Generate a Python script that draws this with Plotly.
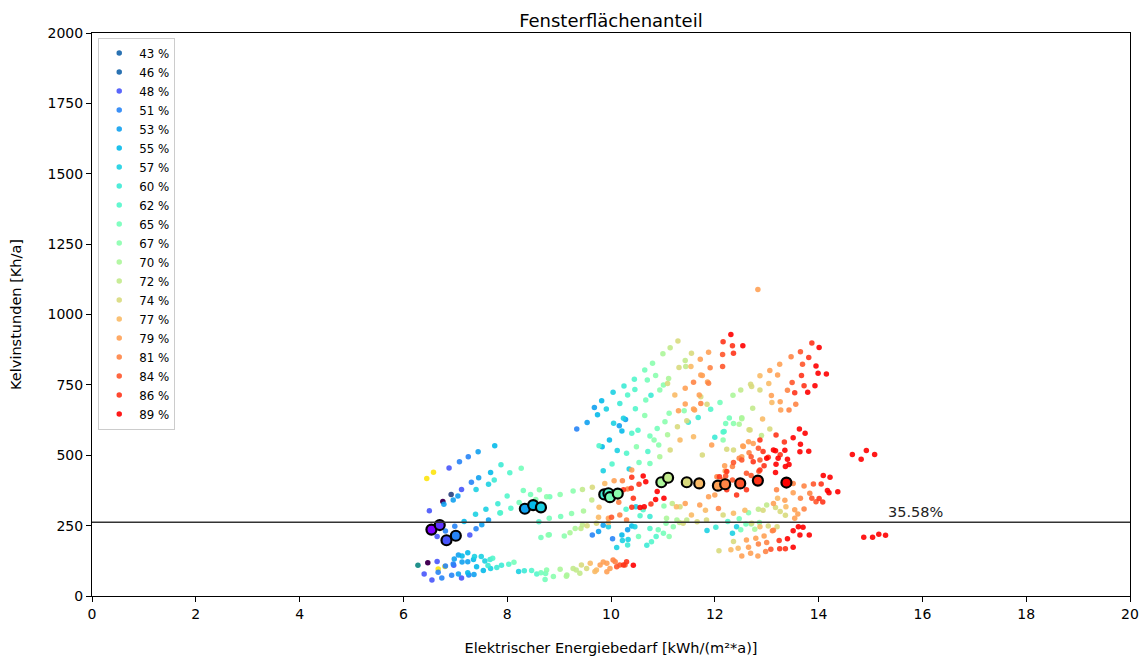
import math

import plotly.graph_objects as go

# window fraction per series (legend labels)
pct = [43, 46, 48, 51, 53, 55, 57, 60, 62, 65, 67, 70, 72, 74, 77, 79, 81, 84, 86, 89]

# --- scatter values, one x/y pair per window fraction ---
x43 = [6.76, 6.92, 6.45, 6.58]
y43 = [336, 361, 417, 440]
x46 = [6.47, 6.28, 6.67, 6.80]
y46 = [118, 109, 96, 105]
x48 = [6.50, 6.88, 7.12, 7.28, 6.65, 6.40, 6.55, 6.65, 6.97, 7.12]
y48 = [303, 455, 378, 217, 211, 78, 57, 123, 109, 64]
x51 = [7.08, 7.25, 7.31, 6.81, 6.99, 7.40, 6.67, 6.74, 6.81, 6.93, 6.96, 7.26, 9.34, 9.64, 10.03]
y51 = [477, 495, 404, 231, 248, 239, 84, 64, 107, 74, 114, 75, 593, 217, 203]
x53 = [7.44, 7.45, 6.78, 6.96, 7.05, 7.51, 7.64, 6.98, 7.06, 7.13, 7.36, 7.24, 7.06,
       9.54, 9.68, 10.16, 10.28, 9.85, 9.76, 10.32]
y53 = [512, 420, 326, 341, 355, 253, 270, 131, 146, 121, 76, 122, 78,
       616, 670, 605, 627, 251, 229, 235]
x55 = [7.76, 7.68, 7.17, 7.13, 7.24, 7.41, 7.35, 7.54, 7.24, 9.74, 9.82, 10.21, 9.97, 9.83,
       10.21, 10.40]
y55 = [534, 439, 265, 142, 154, 104, 130, 91, 83, 644, 694, 586, 554, 530, 217, 249]
x57 = [7.40, 7.64, 7.39, 7.59, 7.50, 7.57, 7.68, 7.37, 8.22, 9.91, 10.04, 10.05, 10.24, 10.12,
       9.85, 10.35, 10.48, 9.95, 10.11, 10.22, 10.33, 10.46, 11.85, 12.34, 12.42]
y57 = [378, 397, 290, 308, 140, 124, 98, 140, 87, 664, 724, 614, 631, 517,
       445, 451, 317, 246, 172, 197, 201, 246, 233, 223, 246]
x60 = [7.75, 7.88, 7.82, 7.86, 7.67, 7.80, 7.89, 7.63, 8.33, 10.25, 10.17, 10.77, 12.00, 11.68,
       11.49, 10.75, 10.32, 10.69, 12.02]
y60 = [412, 466, 328, 295, 130, 101, 109, 108, 90, 746, 684, 713, 564, 634,
       617, 282, 181, 180, 244]
x62 = [8.05, 8.00, 7.87, 8.07, 8.61, 7.72, 8.03, 8.47, 8.57, 10.45, 10.46, 10.32, 10.47, 10.52,
       10.40, 10.30, 9.77, 10.02, 10.71, 12.16, 11.92, 12.18, 10.29, 10.56, 10.78, 10.87, 10.75,
       12.25, 10.62]
y62 = [438, 355, 296, 312, 264, 134, 113, 91, 78, 770, 734, 714, 665, 589,
       578, 507, 534, 469, 513, 583, 663, 584, 308, 285, 193, 211, 240,
       265, 306]
x65 = [8.27, 8.31, 8.45, 8.23, 8.65, 8.13, 8.65, 8.73, 8.74, 8.82, 9.03, 8.81, 8.81, 10.65,
       10.70, 10.67, 10.89, 10.75, 10.54, 12.21, 12.10, 12.28, 10.53, 10.91, 11.01, 12.47, 12.50,
       12.60, 10.75]
y65 = [454, 375, 361, 332, 208, 120, 83, 59, 80, 353, 282, 276, 218, 803,
       767, 696, 595, 568, 474, 613, 687, 632, 211, 235, 223, 274, 235,
       256, 471]
x67 = [8.62, 8.55, 8.76, 8.79, 8.76, 8.89, 9.27, 9.02, 9.24, 9.10, 10.80, 10.94, 10.86, 11.01,
       11.12, 11.04, 10.65, 10.49, 10.83, 10.92, 12.36, 11.41, 11.02, 11.12, 11.20, 11.06, 12.65,
       12.70, 12.86, 12.16]
y67 = [377, 343, 353, 217, 92, 69, 373, 361, 293, 213, 827, 732, 783, 750,
       649, 619, 641, 530, 554, 536, 613, 658, 320, 211, 246, 258, 296,
       256, 261, 554]
x70 = [9.02, 9.15, 9.47, 9.21, 9.31, 11.00, 11.11, 11.09, 12.52, 12.35, 12.47, 12.52, 12.77,
       10.94, 11.27, 11.07, 9.14]
y70 = [95, 75, 302, 225, 240, 861, 773, 573, 633, 713, 610, 630, 237,
       495, 270, 276, 70]
x72 = [9.27, 9.40, 9.45, 9.63, 9.42, 9.45, 11.14, 11.43, 11.44, 12.50, 12.73, 11.18, 11.32,
       12.90, 13.00, 12.84, 11.46, 9.33]
y72 = [98, 81, 378, 341, 240, 252, 882, 837, 815, 732, 667, 329, 261,
       570, 323, 308, 270, 92]
x74 = [9.43, 9.53, 9.64, 9.54, 9.72, 11.29, 11.55, 11.31, 11.09, 11.73, 11.28, 11.46, 11.85,
       12.71, 12.66, 12.69, 12.87, 12.68, 13.06, 11.33, 11.39, 13.36, 13.26, 13.17, 13.03, 13.20,
       12.36, 12.08, 12.36, 12.23, 11.76, 11.14, 12.93, 12.16, 11.84, 11.66, 12.71]
y74 = [110, 98, 386, 250, 258, 906, 862, 812, 755, 708, 601, 623, 681,
       744, 591, 752, 732, 590, 593, 317, 258, 287, 300, 314, 249, 246,
       194, 161, 519, 521, 501, 519, 305, 288, 270, 264, 258]
x77 = [9.60, 9.69, 9.72, 9.88, 9.77, 9.76, 9.95, 11.54, 11.23, 12.87, 13.04, 13.10, 12.92,
       13.21, 13.37, 12.31, 12.45, 12.36, 11.26, 11.55, 11.82, 12.58, 12.87, 11.59, 11.33]
y77 = [116, 87, 92, 400, 315, 280, 261, 815, 714, 782, 755, 687, 629,
       347, 317, 164, 170, 294, 317, 288, 305, 305, 246, 566, 554]
x79 = [9.79, 9.92, 9.98, 9.85, 9.92, 10.06, 10.01, 9.95, 11.88, 11.72, 11.43, 11.70, 11.76,
       11.43, 11.30, 11.61, 11.86, 11.73, 11.59, 13.06, 13.25, 13.21, 13.09, 13.26, 13.27, 12.54,
       12.74, 12.55, 12.19, 13.51, 13.35, 13.54, 13.60, 13.54, 12.52, 12.61, 12.69, 12.83, 12.95,
       12.79, 12.65, 12.20, 12.52, 12.65, 11.94, 10.40, 11.43, 11.71, 11.88, 12.00, 13.13, 12.83]
y79 = [110, 116, 98, 121, 86, 409, 345, 276, 866, 841, 738, 714, 783,
       682, 658, 661, 760, 785, 664, 801, 823, 785, 712, 690, 661, 533,
       542, 531, 463, 367, 340, 306, 291, 276, 142, 199, 152, 142, 213,
       205, 173, 444, 495, 548, 536, 448, 329, 323, 353, 359, 329, 1089]
x81 = [10.08, 10.04, 10.22, 10.32, 10.15, 10.17, 10.30, 11.88, 11.59, 11.91, 11.73, 13.47, 13.56,
       13.40, 13.43, 12.66, 12.47, 12.34, 13.72, 13.83, 13.65, 13.72, 12.84, 12.98, 13.00, 13.11,
       12.07, 13.19, 13.51, 12.04, 12.16, 13.13]
y81 = [122, 128, 409, 380, 333, 288, 270, 756, 759, 811, 684, 850, 681,
       731, 661, 509, 489, 460, 391, 365, 347, 309, 185, 158, 190, 232,
       311, 377, 400, 424, 412, 234]
x84 = [10.17, 10.27, 10.11, 10.01, 12.15, 12.15, 13.65, 13.69, 13.49, 12.70, 12.84, 12.21, 12.70,
       12.87, 12.85, 13.90, 13.95, 13.87, 13.08, 12.36, 12.52, 12.34, 12.61]
y84 = [110, 110, 104, 280, 858, 815, 868, 823, 758, 495, 525, 426, 428,
       483, 443, 398, 335, 347, 166, 474, 483, 412, 436]
x86 = [10.40, 10.54, 10.43, 10.77, 10.40, 10.24, 10.30, 12.16, 12.34, 12.36, 13.87, 13.81, 13.67,
       13.54, 13.72, 12.09, 12.23, 13.03, 12.95, 13.18, 13.34, 13.26, 14.05, 14.01, 14.08, 13.24,
       13.25, 13.36, 10.24, 10.39, 12.23, 12.42, 12.61, 12.74, 12.87, 12.93, 12.87]
y86 = [422, 397, 347, 327, 315, 110, 122, 903, 889, 862, 899, 847, 783,
       722, 747, 424, 442, 493, 463, 572, 547, 502, 398, 346, 334, 197,
       168, 168, 377, 383, 377, 359, 377, 477, 448, 513, 554]
x89 = [10.62, 10.67, 10.56, 10.64, 10.89, 10.86, 11.02, 10.43, 12.31, 12.54, 14.01, 13.95, 13.99,
       14.15, 13.79, 13.93, 13.17, 13.18, 13.17, 13.35, 13.40, 13.36, 13.43, 13.51, 13.63, 13.74,
       13.64, 13.81, 13.65, 14.09, 14.22, 14.17, 14.20, 14.37, 13.51, 13.40, 13.51, 13.61, 13.70,
       13.64, 13.82, 14.87, 15.04, 15.16, 15.29, 14.65, 14.82, 14.92, 15.08, 13.00, 13.13, 13.22]
y89 = [426, 406, 314, 317, 371, 343, 347, 109, 929, 889, 883, 817, 791,
       789, 724, 747, 516, 468, 439, 518, 486, 460, 467, 562, 593, 578,
       512, 514, 539, 428, 422, 375, 367, 370, 173, 203, 232, 246, 244,
       217, 217, 209, 209, 219, 216, 503, 486, 517, 503, 489, 519, 489]

# best point per window fraction (black ring)
best_x = [6.54, 6.70, 6.83, 7.01, 8.34, 8.50, 8.65, 9.87, 9.95, 9.98,
          10.13, 10.97, 11.10, 11.46, 11.70, 12.06, 12.20, 12.49, 12.83, 13.38]
best_y = [236, 252, 198, 214, 310, 323, 315, 361, 365, 351,
          364, 404, 420, 404, 400, 392, 397, 400, 410, 403]

threshold = 262
threshold_label = "35.58%"

xs = [x43, x46, x48, x51, x53, x55, x57, x60, x62, x65, x67, x70, x72, x74, x77, x79, x81, x84, x86, x89]
ys = [y43, y46, y48, y51, y53, y55, y57, y60, y62, y65, y67, y70, y72, y74, y77, y79, y81, y84, y86, y89]

# the first two series came out in viridis colours in the original
odd_colors = {
    43: ["#440154", "#3b528b", "#fde725", "#fde725"],
    46: ["#440154", "#21918c", "#fde725", "#fde725"],
}


def rainbow(t):
    r = min(1.0, abs(2 * t - 0.5))
    g = math.sin(math.pi * t)
    b = math.cos(math.pi * t / 2)
    return "rgb(%d,%d,%d)" % (round(255 * r), round(255 * max(g, 0)), round(255 * max(b, 0)))


def color_of(p):
    return rainbow((p - pct[0]) / (pct[-1] - pct[0]))


font = "DejaVu Sans"
fig = go.Figure()

for p, x, y in zip(pct, xs, ys):
    name = f"{p} %"
    if p in odd_colors:
        fig.add_trace(go.Scatter(
            x=x, y=y, mode="markers", name=name, legendgroup=name, showlegend=False,
            marker=dict(size=5.5, color=odd_colors[p]),
        ))
        fig.add_trace(go.Scatter(
            x=[None], y=[None], mode="markers", name=name, legendgroup=name,
            marker=dict(size=5.5, color="#2a72b2"),
        ))
    else:
        fig.add_trace(go.Scatter(
            x=x, y=y, mode="markers", name=name, legendgroup=name,
            marker=dict(size=5.5, color=color_of(p), opacity=0.9),
        ))

fig.add_trace(go.Scatter(
    x=best_x, y=best_y, mode="markers", showlegend=False,
    marker=dict(size=10, color=[color_of(p) for p in pct], line=dict(color="black", width=2.2)),
))

fig.add_hline(y=threshold, line_color="#333333", line_width=1.5)
fig.add_annotation(
    x=15.29, y=threshold, text=threshold_label, showarrow=False,
    xanchor="left", yanchor="bottom", yshift=0, font=dict(size=14.5, color="#222222"),
)

axis = dict(
    showgrid=False, zeroline=False, showline=True, mirror=True, linecolor="black",
    linewidth=1, ticks="outside", ticklen=5, tickcolor="black", automargin=False,
    tickfont=dict(size=14, color="black"),
)
fig.update_xaxes(axis, range=[0, 20], dtick=2,
                 title=dict(text="Elektrischer Energiebedarf [kWh/(m²*a)]", font=dict(size=14.5), standoff=22))
fig.update_yaxes(axis, range=[0, 2000], dtick=250,
                 title=dict(text="Kelvinstunden [Kh/a]", font=dict(size=14.5), standoff=22))

fig.update_layout(
    width=1144, height=662,
    margin=dict(l=92, r=14, t=33, b=66),
    paper_bgcolor="white", plot_bgcolor="white",
    font=dict(family=font, color="black"),
    title=dict(text="Fensterflächenanteil", x=0.534, xanchor="center", y=0.979, yanchor="top",
               font=dict(size=18)),
    legend=dict(
        x=0.006, y=0.992, xanchor="left", yanchor="top",
        bgcolor="white", bordercolor="#cccccc", borderwidth=1,
        font=dict(size=11.8), itemwidth=30, tracegroupgap=0,
    ),
)

# the page body has a default margin; drop it so the figure sits at the window corner
fig.write_html("out.html", config={"displayModeBar": False},
               post_script="document.body.style.margin='0';")
